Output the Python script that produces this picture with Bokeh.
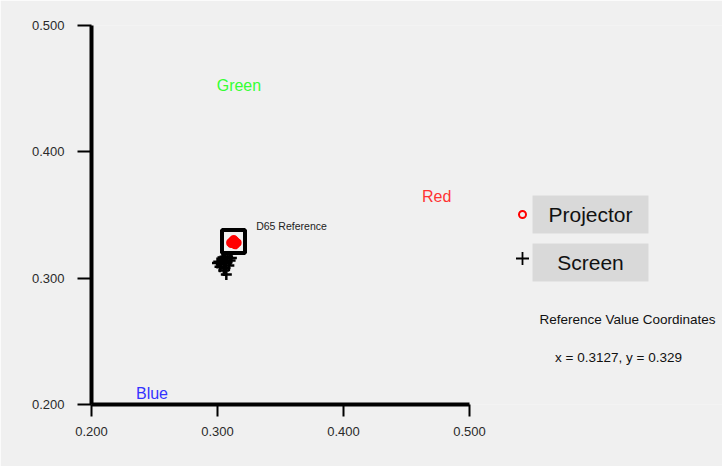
from bokeh.plotting import figure
from bokeh.models import FixedTicker, NumeralTickFormatter, Range1d
from bokeh.embed import file_html
from bokeh.resources import INLINE

# ---- data ----
proj_x = [0.311, 0.313, 0.315, 0.312, 0.314, 0.310, 0.316, 0.313, 0.312, 0.315, 0.314, 0.311]
proj_y = [0.329, 0.330, 0.329, 0.327, 0.326, 0.328, 0.328, 0.331, 0.330, 0.327, 0.330, 0.327]
screen_x = [0.300, 0.303, 0.306, 0.305, 0.302, 0.307, 0.310, 0.306, 0.304, 0.309, 0.305, 0.307, 0.301, 0.306, 0.308, 0.311]
screen_y = [0.312, 0.311, 0.313, 0.316, 0.309, 0.312, 0.314, 0.308, 0.315, 0.310, 0.306, 0.303, 0.313, 0.317, 0.317, 0.316]
ref_x = [0.3127]
ref_y = [0.329]
prim_names = ["Green", "Red", "Blue"]
prim_x = [0.317, 0.474, 0.248]
prim_y = [0.4525, 0.365, 0.2085]
prim_colors = ["#33ff33", "#ff3333", "#3333ff"]
ticks = [0.2, 0.3, 0.4, 0.5]
legend_names = ["Projector", "Screen"]

W, H = 722, 466
L, B, T = 91, 62, 25
x0, x1 = 0.2, 0.5
y0, y1 = 0.2, 0.5
ppx = (469 - 91) / (x1 - x0)  # pixels per unit
xmax = x0 + (W - L) / ppx
FONT = {"value": "Liberation Sans"}

p = figure(width=W, height=H, output_backend="svg", toolbar_location=None,
           x_range=Range1d(x0, xmax), y_range=Range1d(y0, y1),
           min_border_left=L, min_border_right=0, min_border_top=T, min_border_bottom=B)
p.background_fill_color = "#f0f0f0"
p.border_fill_color = "#f0f0f0"
p.outline_line_color = None
p.grid.visible = False

for ax in (p.xaxis[0], p.yaxis[0]):
    ax.ticker = FixedTicker(ticks=ticks)
    ax.minor_tick_line_color = None
    ax.formatter = NumeralTickFormatter(format="0.000")
    ax.axis_line_width = 4
    ax.axis_line_color = "black"
    ax.major_tick_line_width = 2
    ax.major_tick_line_color = "black"
    ax.major_tick_in = 0
    ax.major_label_text_font = "Liberation Sans"
    ax.major_label_text_font_size = "13px"
    ax.major_label_text_color = "#2a2a2a"
    ax.bounds = (0.2, 0.5)
p.xaxis[0].major_tick_out = 12
p.xaxis[0].major_label_standoff = 10
p.yaxis[0].major_tick_out = 14
p.yaxis[0].major_label_standoff = 13

# data marks
p.scatter(screen_x, screen_y, marker="cross", size=11, line_color="black", line_width=2.5)
p.scatter(proj_x, proj_y, marker="circle", size=6, fill_color=None, line_color="red", line_width=2)
p.scatter(ref_x, ref_y, marker="square", size=23, fill_color=None, line_color="black", line_width=4)

p.text(x=[ref_x[0] + 0.018], y=[ref_y[0] + 0.012], text=["D65 Reference"],
       text_font_size="10.5px", text_baseline="middle", text_align="left", text_color="#222222",
       text_font=FONT)

p.text(x=prim_x, y=prim_y, text=prim_names, text_color=prim_colors,
       text_font_size="16px", text_align="center", text_baseline="middle", text_font=FONT)

# legend (manual)
def dx(px):
    return x0 + (px - L) / ppx

ppy = (404 - 25) / (y1 - y0)
def dy(py):
    return y1 - (py - T) / ppy

box_tops = [195, 243]
for i, name in enumerate(legend_names):
    p.quad(left=dx(532), right=dx(648), top=dy(box_tops[i]), bottom=dy(box_tops[i] + 38),
           fill_color="#d9d9d9", line_color=None)
    p.text(x=[dx(590)], y=[dy(box_tops[i] + 19)], text=[name], text_font_size="21px",
           text_align="center", text_baseline="middle", text_color="#111111", text_font=FONT)
p.scatter([dx(522)], [dy(214)], marker="circle", size=7, fill_color=None, line_color="red", line_width=2)
p.scatter([dx(522)], [dy(258)], marker="cross", size=13, line_color="black", line_width=1.8)

p.text(x=[dx(627)], y=[dy(319)], text=["Reference Value Coordinates"], text_font_size="13.5px",
       text_align="center", text_baseline="middle", text_color="#111111", text_font=FONT)
p.text(x=[dx(618)], y=[dy(357)], text=["x = %s, y = %s" % (ref_x[0], ref_y[0])], text_font_size="13.5px",
       text_align="center", text_baseline="middle", text_color="#111111", text_font=FONT)

open("out.html", "w").write(file_html(p, INLINE))
